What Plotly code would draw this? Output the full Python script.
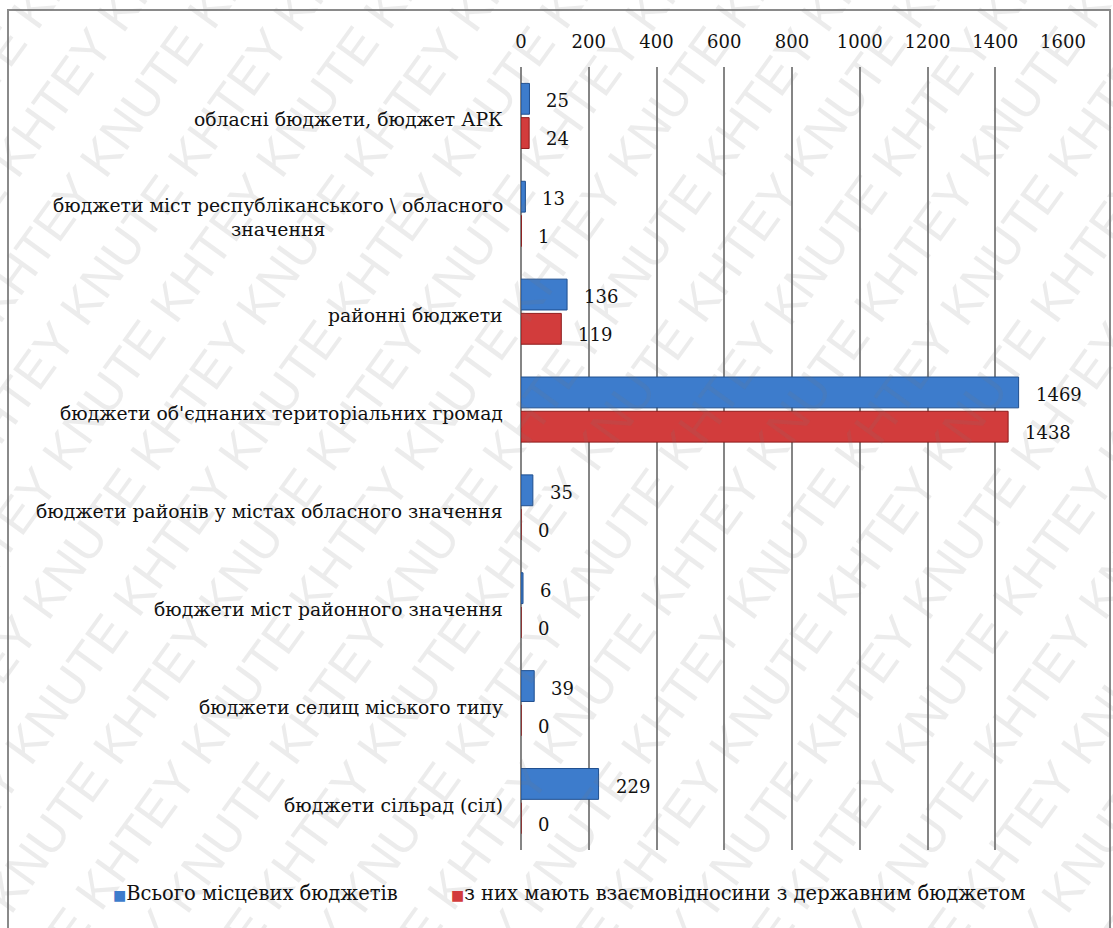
import plotly.graph_objects as go

# Budget categories (top to bottom) and counts
categories = [
    "обласні бюджети, бюджет АРК",
    "бюджети міст республіканського \\ обласного<br>значення",
    "районні бюджети",
    "бюджети об'єднаних територіальних громад",
    "бюджети районів у містах обласного значення",
    "бюджети міст районного значення",
    "бюджети селищ міського типу",
    "бюджети сільрад (сіл)",
]
total_budgets = [25, 13, 136, 1469, 35, 6, 39, 229]
with_state_budget = [24, 1, 119, 1438, 0, 0, 0, 0]

series_names = [
    "Всього місцевих бюджетів",
    "з них мають взаємовідносини з державним бюджетом",
]
x_ticks = [0, 200, 400, 600, 800, 1000, 1200, 1400, 1600]

W, H = 1113, 928
ML, MR, MT, MB = 521, 50, 67, 78
PW, PH = W - ML - MR, H - MT - MB


def px_x(px):
    return (px - ML) / PW


def px_y(py):
    return (H - MB - py) / PH


SERIF = "DejaVu Serif"
BLUE, BLUE_EDGE = "#3d7ccc", "#1f4f8f"
RED, RED_EDGE = "#d23c3c", "#8e1c1c"
colors = [BLUE, RED]

fig = go.Figure()
fig.add_trace(go.Bar(
    y=categories, x=total_budgets, orientation="h", name=series_names[0],
    marker=dict(color=BLUE, line=dict(color=BLUE_EDGE, width=1)),
))
fig.add_trace(go.Bar(
    y=categories, x=with_state_budget, orientation="h", name=series_names[1],
    marker=dict(color=RED, line=dict(color=RED_EDGE, width=1)),
))

annotations = []

# diagonal "KNUTE KHTEY" watermark across the page (drawn first, beneath the labels)
for i, cx in enumerate(range(-650, 1750, 88)):
    text = ("KNUTE KHTEY " if i % 2 == 0 else "KHTEY KNUTE ") * 6
    annotations.append(dict(x=px_x(cx), y=px_y(464), xref="paper", yref="paper",
                            text=text, showarrow=False, textangle=-54,
                            xanchor="center", yanchor="middle",
                            font=dict(family="Liberation Sans", size=50,
                                      color="rgba(120,120,120,0.14)")))

# value labels to the right of each bar
for cat, v in zip(categories, total_budgets):
    annotations.append(dict(x=v, y=cat, xref="x", yref="y", text=str(v),
                            showarrow=False, xanchor="left", xshift=15, yshift=15,
                            font=dict(family=SERIF, size=18, color="#111")))
for cat, v in zip(categories, with_state_budget):
    annotations.append(dict(x=v, y=cat, xref="x", yref="y", text=str(v),
                            showarrow=False, xanchor="left", xshift=15, yshift=-23,
                            font=dict(family=SERIF, size=18, color="#111")))

# category labels, centred line by line
for cat in categories:
    annotations.append(dict(x=px_x(505), y=cat, xref="paper", yref="y", text=cat,
                            showarrow=False, xanchor="right", align="center", yshift=-4,
                            font=dict(family=SERIF, size=18.8, color="#111")))

# legend row below the plot: coloured square + series name
for name, col, lx in zip(series_names, colors, [111, 449]):
    annotations.append(dict(x=px_x(lx), y=px_y(893), xref="paper", yref="paper",
                            text=f'<span style="color:{col};font-size:14px">■</span>{name}',
                            showarrow=False, xanchor="left", yanchor="middle",
                            font=dict(family=SERIF, size=19.5, color="#111")))

fig.update_layout(
    width=W, height=H,
    margin=dict(l=ML, r=MR, t=MT, b=MB),
    paper_bgcolor="white", plot_bgcolor="white",
    font=dict(family=SERIF, color="#111"),
    barmode="group", bargap=0.3, bargroupgap=0.1,
    showlegend=False,
    annotations=annotations,
    shapes=[dict(type="rect", xref="paper", yref="paper",
                 x0=px_x(8), x1=px_x(1110), y0=px_y(950), y1=px_y(10),
                 line=dict(color="#8a8a8a", width=2), layer="below")],
    xaxis=dict(side="top", range=[0, 1600], tickvals=x_ticks, ticktext=[str(t) for t in x_ticks],
               showgrid=True, gridcolor="#858585", gridwidth=2,
               zeroline=True, zerolinecolor="#858585", zerolinewidth=2,
               showline=False, ticks="", ticklabelstandoff=14,
               tickfont=dict(family=SERIF, size=18, color="#111")),
    yaxis=dict(autorange="reversed", showticklabels=False, showgrid=False,
               zeroline=False, showline=False, ticks=""),
)

fig.write_html("out.html")
